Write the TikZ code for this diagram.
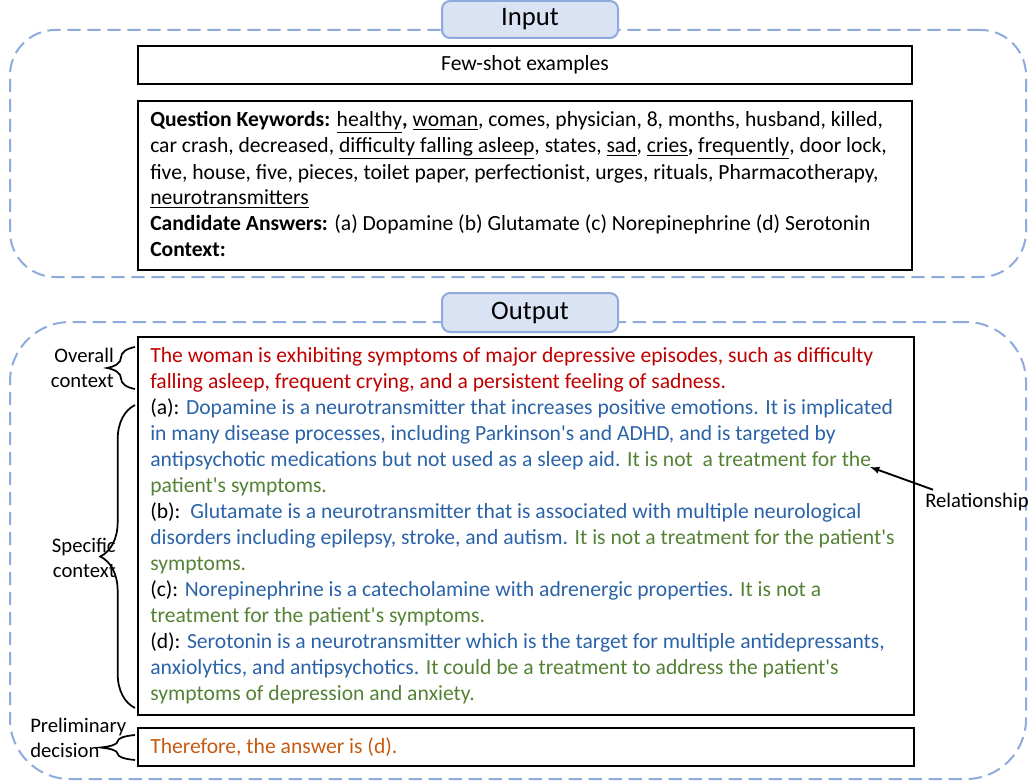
\documentclass[tikz,border=0pt]{standalone}
\usepackage{fontspec}
\setmainfont{Carlito}
\usepackage{tikz}
\usetikzlibrary{arrows,calc,fit}
\usetikzlibrary{positioning,decorations.pathreplacing}
\definecolor{tabfill}{HTML}{DAE3F3}
\definecolor{tabline}{HTML}{8FAADC}
\definecolor{ctxred}{HTML}{C00000}
\definecolor{optblue}{HTML}{2B63A8}
\definecolor{relgreen}{HTML}{548235}
\definecolor{decorange}{HTML}{C55A11}
\newcommand{\ap}{\textquotesingle}
\newcommand{\ul}[1]{\underline{#1}}

\begin{document}
\begin{tikzpicture}[x=0.75pt,y=-0.75pt]
\tikzstyle{frame}=[draw=tabline,line width=1.5pt,dash pattern=on 10pt off 5pt,inner sep=0pt]
\tikzstyle{tab}=[draw=tabline,fill=tabfill,line width=1.5pt,rounded corners=6pt,inner sep=0pt]
\tikzstyle{tabtxt}=[inner sep=0pt,font=\fontsize{20}{22}\selectfont]
\tikzstyle{box}=[draw=black,line width=1.8pt,inner sep=0pt]
\tikzstyle{txt}=[inner sep=0pt,align=left,font=\fontsize{16.2}{19.5}\selectfont]
\tikzstyle{lbl}=[inner sep=0pt,align=left,font=\fontsize{15.5}{18.5}\selectfont]
\tikzstyle{brc}=[decorate,line width=1.3pt]

\useasboundingbox (0,0) rectangle (1034,784);

%%%%%%%%%%%%%%%%%%%%%%%%%%%%%%%%%%%%%%%%%%%%%%%%%%%%%%%%%%%%%%%%%%%%%%%%
%INPUT
\node[frame,rounded corners=34pt,fit={(10,30) (1026,277)}] (inputframe) {};
\node[tab,fit={(442,1) (618,38)}] (inputtab) {};
\node[tabtxt] (inputlbl) at (inputtab) {Input};

\node[box,fit={(138,46) (912,84)}] (fewshot) {};
\node[txt] (fewtext) at (fewshot) {Few-shot examples};

\node[box,fit={(138,101) (912,270)}] (question) {};
% base of a multi-line node = its last line
\node[txt,anchor=base west] (questext) at (150,257) {%
\textbf{Question Keywords:} \ul{healthy}\textbf{,} \ul{woman}, comes, physician, 8, months, husband, killed,\\
car crash, decreased, \ul{difficulty falling asleep}, states, \ul{sad}, \ul{cries}\textbf{,} \ul{frequently}, door lock,\\
five, house, five, pieces, toilet paper, perfectionist, urges, rituals, Pharmacotherapy,\\
\ul{neurotransmitters}\\
\textbf{Candidate Answers:} (a) Dopamine (b) Glutamate (c) Norepinephrine (d) Serotonin\\
\textbf{Context:}};

%%%%%%%%%%%%%%%%%%%%%%%%%%%%%%%%%%%%%%%%%%%%%%%%%%%%%%%%%%%%%%%%%%%%%%%%
%OUTPUT
\node[frame,rounded corners=45pt,fit={(10,322) (1026,779)}] (outputframe) {};
\node[tab,fit={(442,293) (618,332)}] (outputtab) {};
\node[tabtxt] (outputlbl) at (outputtab) {Output};

\node[box,fit={(138,337) (914,715)}] (answer) {};
\node[txt,anchor=base west] (anstext) at (150,700) {%
\textcolor{ctxred}{The woman is exhibiting symptoms of major depressive episodes, such as difficulty}\\
\textcolor{ctxred}{falling asleep, frequent crying, and a persistent feeling of sadness.}\\
(a): \textcolor{optblue}{Dopamine is a neurotransmitter that increases positive emotions. It is implicated}\\
\textcolor{optblue}{in many disease processes, including Parkinson\ap s and ADHD, and is targeted by}\\
\textcolor{optblue}{antipsychotic medications but not used as a sleep aid.} \textcolor{relgreen}{It is not\ \ a treatment for the}\\
\textcolor{relgreen}{patient\ap s symptoms.}\\
(b):\ \ \textcolor{optblue}{Glutamate is a neurotransmitter that is associated with multiple neurological}\\
\textcolor{optblue}{disorders including epilepsy, stroke, and autism.} \textcolor{relgreen}{It is not a treatment for the patient\ap s}\\
\textcolor{relgreen}{symptoms.}\\
(c): \textcolor{optblue}{Norepinephrine is a catecholamine with adrenergic properties.} \textcolor{relgreen}{It is not a}\\
\textcolor{relgreen}{treatment for the patient\ap s symptoms.}\\
(d): \textcolor{optblue}{Serotonin is a neurotransmitter which is the target for multiple antidepressants,}\\
\textcolor{optblue}{anxiolytics, and antipsychotics.} \textcolor{relgreen}{It could be a treatment to address the patient\ap s}\\
\textcolor{relgreen}{symptoms of depression and anxiety.}};

\node[box,fit={(138,728) (914,766)}] (decision) {};
\node[txt,anchor=base west] (dectext) at (150,753) {\textcolor{decorange}{Therefore, the answer is (d).}};

%%%%%%%%%%%%%%%%%%%%%%%%%%%%%%%%%%%%%%%%%%%%%%%%%%%%%%%%%%%%%%%%%%%%%%%%
%LABELS
\node[lbl,anchor=base east,align=right] (overall) at (114,387) {Overall\\context};
\node[lbl,anchor=base east,align=right] (specific) at (116,577) {Specific\\context};
\node[lbl,anchor=base west] (prelim) at (30,757) {Preliminary\\decision};
\node[lbl,anchor=base west] (relat) at (925,507) {Relationship};

%braces
\coordinate (ovbot) at (135,389);
\coordinate (ovtop) at (135,347);
\coordinate (spbot) at (135,708);
\coordinate (sptop) at (135,405);
\coordinate (prbot) at (135,760);
\coordinate (prtop) at (135,735);
\draw[brc,decoration={brace,amplitude=21pt}] (ovbot) -- (ovtop);
\draw[brc,decoration={brace,amplitude=26pt}] (spbot) -- (sptop);
\draw[brc,decoration={brace,amplitude=26pt}] (prbot) -- (prtop);

%ARROW
\coordinate (relpt) at (870,467);
\draw[->,>=latex,line width=1.4pt] ([xshift=6pt,yshift=2pt]relat.north west) -- (relpt);

\end{tikzpicture}
\end{document}
